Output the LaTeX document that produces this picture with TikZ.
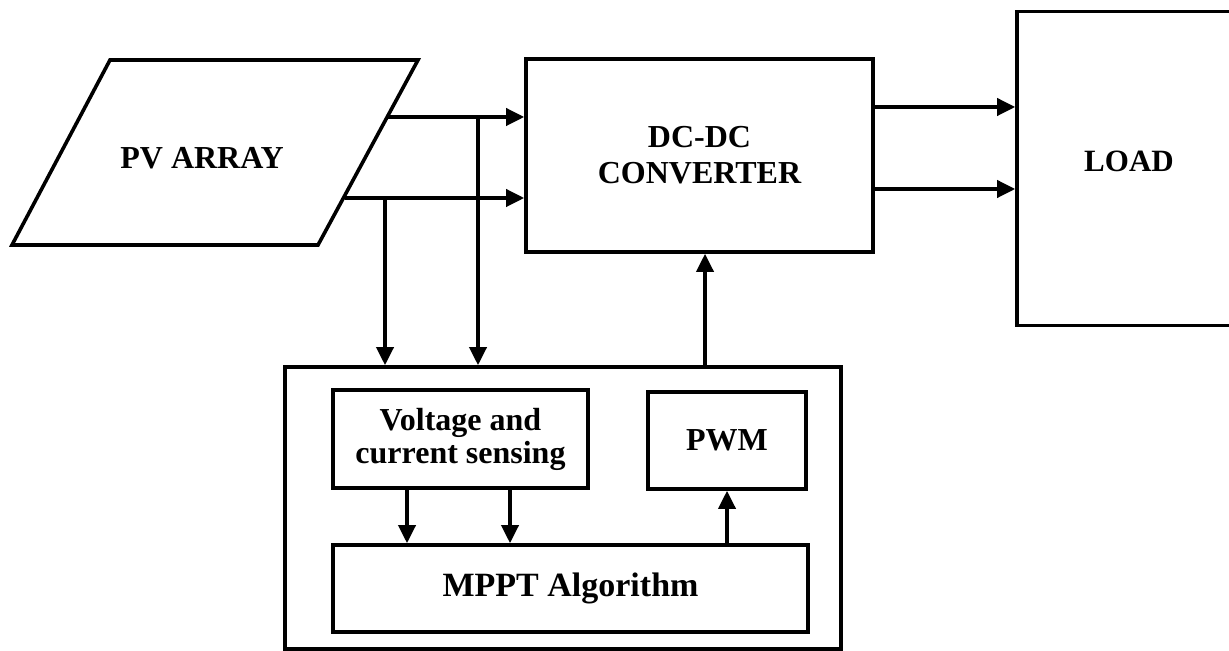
\documentclass[tikz,border=0pt]{standalone}
\usepackage{fontspec}
\setmainfont{Liberation Serif}
\usetikzlibrary{arrows.meta}
\tikzset{
  blk/.style={draw, line width=1.8pt, align=center, inner sep=0pt,
    font=\bfseries\fontsize{16}{16.5}\selectfont},
  conn/.style={line width=1.8pt, -{Triangle[length=9pt,width=8.5pt]}},
  wire/.style={line width=1.8pt}
}
\begin{document}
\begin{tikzpicture}[x=0.5pt,y=-0.5pt]
  \clip (0,0) rectangle (1229,651);
  % PV array
  \draw[wire] (110,60) -- (418,60) -- (318,245) -- (12,245) -- cycle;
  \node[font=\bfseries\fontsize{16}{16.5}\selectfont] (pv) at (202,158) {PV ARRAY};
  \coordinate (pvo1) at (388,117);
  \coordinate (pvo2) at (345,198);
  % converter and load
  \node[blk, minimum width=173.5pt, minimum height=96.5pt,
    font=\bfseries\fontsize{16}{18}\selectfont] (dc) at (699.5,155.5) {DC-DC\\CONVERTER};
  \node[blk, minimum width=112pt, minimum height=157pt, text depth=7pt,
    font=\bfseries\fontsize{15.5}{16.5}\selectfont] (load) at (1129,168.5) {LOAD};
  % controller
  \node[blk, minimum width=278pt, minimum height=141pt] (ctrl) at (563,508) {};
  \node[blk, minimum width=127.5pt, minimum height=49pt] (sense) at (460.5,439) {Voltage and\\current sensing};
  \node[blk, minimum width=79pt, minimum height=48.5pt] (pwm) at (727,440.5) {PWM};
  \node[blk, minimum width=237.5pt, minimum height=43.5pt,
    font=\bfseries\fontsize{17}{19}\selectfont] (mppt) at (570.5,588.5) {MPPT Algorithm};
  % connections
  \draw[conn] (pvo1) -- (pvo1 -| dc.west);
  \draw[conn] (pvo2) -- (pvo2 -| dc.west);
  \coordinate (tap1) at (478,117);
  \coordinate (tap2) at (385,198);
  \draw[conn] (tap1) -- (tap1 |- ctrl.north);
  \draw[conn] (tap2) -- (tap2 |- ctrl.north);
  \foreach \y in {107,189}
  {
    \draw[conn] (dc.east |- 0,\y) -- (load.west |- 0,\y);
  }
  \draw[conn] (ctrl.north -| 705,0) -- (dc.south -| 705,0);
  \foreach \x in {407,510}
  {
    \draw[conn] (sense.south -| \x,0) -- (mppt.north -| \x,0);
  }
  \draw[conn] (mppt.north -| pwm) -- (pwm.south);
\end{tikzpicture}
\end{document}
